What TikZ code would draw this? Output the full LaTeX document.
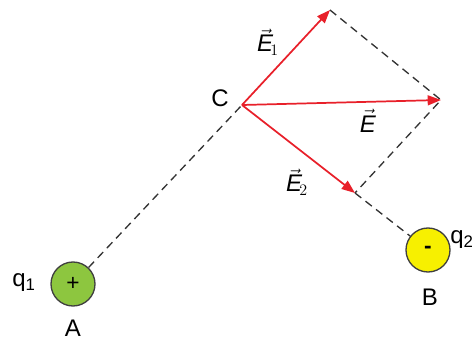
\documentclass[tikz,border=0pt]{standalone}
\usepackage{fontspec}
\setmainfont{Liberation Sans}
\usetikzlibrary{arrows.meta, positioning, calc}
\definecolor{vecred}{HTML}{E8202A}
\definecolor{chargegreen}{HTML}{8DC63F}
\definecolor{chargeyellow}{HTML}{F7F000}

\begin{document}
\begin{tikzpicture}[
    x=0.75pt, y=-0.75pt,
    charge/.style={circle, draw=black!75, line width=1pt, minimum size=33pt, inner sep=0pt, font=\fontsize{17}{18}\selectfont},
    field/.style={-{Triangle[length=10pt,width=7.5pt]}, vecred, line width=1.3pt},
    guide/.style={black!80, line width=1pt, dash pattern=on 6pt off 4pt},
    lbl/.style={font=\fontsize{18}{20}\selectfont, inner sep=0pt},
]
    \useasboundingbox (0,0) rectangle (476,345);

    % Charges
    \node[charge, fill=chargegreen] (A) at (73,284) {+};
    \node[charge, fill=chargeyellow] (B) at (428,250) {\textbf{-}};
    \node[lbl] (q1) at (24,283) {q\textsubscript{1}};
    \node[lbl] (nA) at (73,328) {A};
    \node[lbl] (q2) at (462,240) {q\textsubscript{2}};
    \node[lbl] (nB) at (430,297) {B};

    % Point C and field vectors
    \coordinate (C) at (242,105);
    \node[lbl] (nC) at (220,98) {C};
    \coordinate (E1) at (330,10);
    \coordinate (E2) at (355,193);
    \coordinate (E) at (441,100);

    % Guide lines
    \draw[guide] (A) -- (C);
    \draw[guide] (E2) -- (B);
    \draw[guide] (E1) -- (E) -- ($(E2)!6pt!(E)!1!(E2)$);

    \draw[field] (C) -- (E1);
    \draw[field] (C) -- (E2);
    \draw[field] (C) -- (E);

    % Vector labels
    \node[lbl] (lE1) at (268,42) {$\vec{\textit{E}}_{\!1}$};
    \node[lbl] (lE) at (368,121) {$\vec{\textit{E}}$};
    \node[lbl] (lE2) at (297,182) {$\vec{\textit{E}}_{\!2}$};
\end{tikzpicture}
\end{document}
